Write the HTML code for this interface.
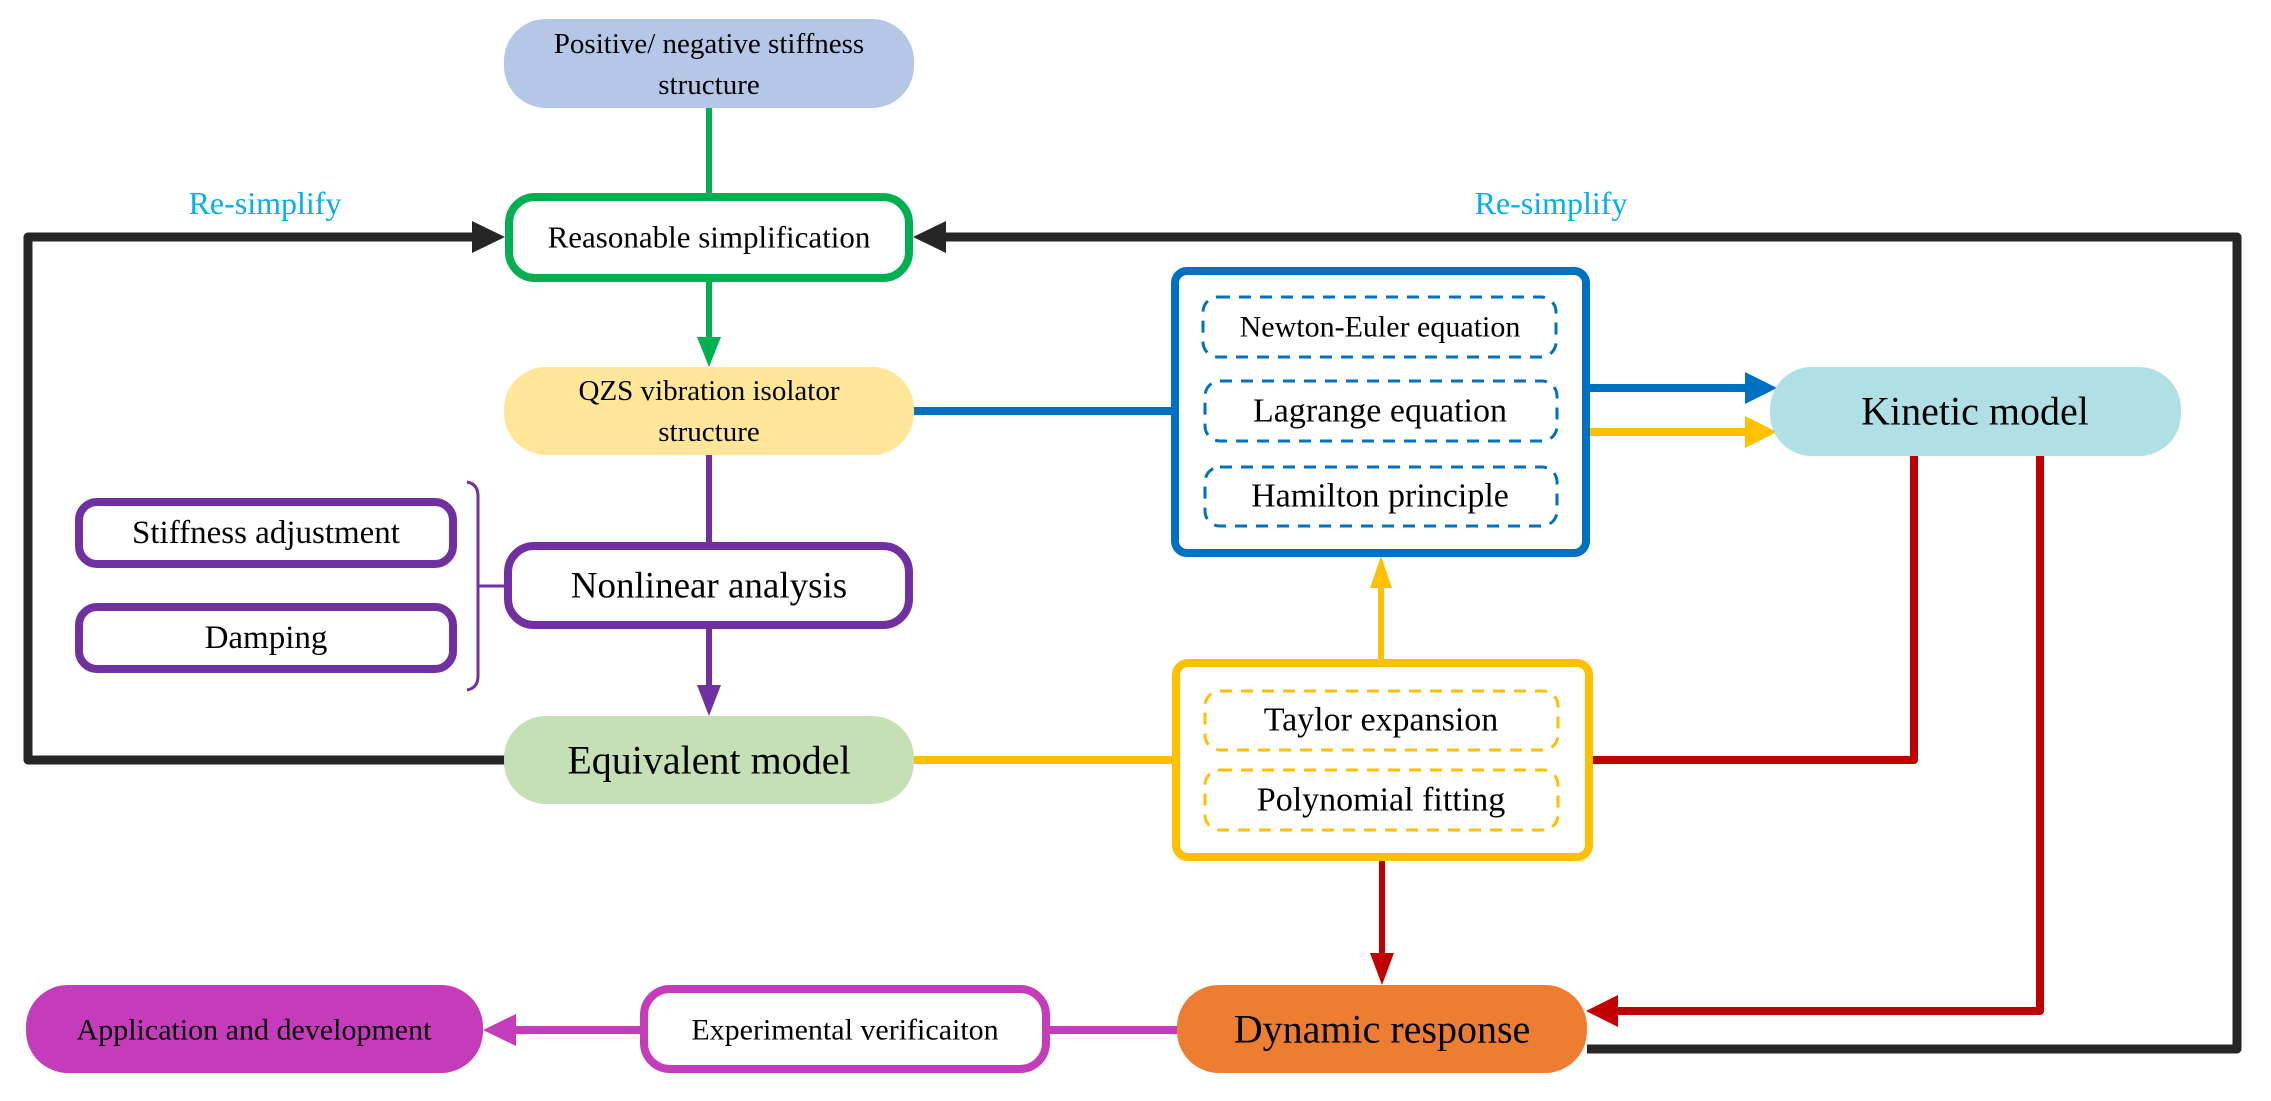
<!DOCTYPE html>
<html><head><meta charset="utf-8"><style>
html,body{margin:0;padding:0;background:#fff;}
svg{display:block;}
svg text{font-family:'Liberation Serif','Times New Roman','DejaVu Serif',serif;fill:#000;text-anchor:middle;dominant-baseline:central;}
</style></head><body>
<svg width="2271" height="1101" viewBox="0 0 2271 1101" xmlns="http://www.w3.org/2000/svg" font-family="Liberation Serif, Times New Roman, DejaVu Serif, serif">
<rect width="2271" height="1101" fill="#fff"/>

<polyline points="505,760 28,760 28,237 475,237" fill="none" stroke="#262626" stroke-width="9" stroke-linejoin="round"/>
<polygon points="505,237 472,221 472,253" fill="#262626"/>
<polyline points="1587,1049 2237,1049 2237,237 943,237" fill="none" stroke="#262626" stroke-width="9" stroke-linejoin="round"/>
<polygon points="913,237 946,221 946,253" fill="#262626"/>

<line x1="709" y1="108" x2="709" y2="193" stroke="#00b050" stroke-width="6"/>
<line x1="709" y1="282" x2="709" y2="340" stroke="#00b050" stroke-width="6"/>
<polygon points="697,337 721,337 709,367" fill="#00b050"/>

<line x1="913" y1="411" x2="1172" y2="411" stroke="#0070c0" stroke-width="8"/>

<line x1="709" y1="455" x2="709" y2="542" stroke="#7030a0" stroke-width="6"/>
<line x1="709" y1="629" x2="709" y2="688" stroke="#7030a0" stroke-width="6"/>
<polygon points="697,685 721,685 709,716" fill="#7030a0"/>
<path d="M467,482 Q478,484 478,496 L478,676 Q478,688 467,690" fill="none" stroke="#7030a0" stroke-width="3"/>
<line x1="478" y1="586" x2="505" y2="586" stroke="#7030a0" stroke-width="3"/>

<line x1="913" y1="760" x2="1172" y2="760" stroke="#ffc000" stroke-width="8"/>
<line x1="1381" y1="659" x2="1381" y2="585" stroke="#ffc000" stroke-width="6"/>
<polygon points="1370,588 1392,588 1381,556" fill="#ffc000"/>
<line x1="1590" y1="432" x2="1748" y2="432" stroke="#ffc000" stroke-width="8"/>
<polygon points="1777,432 1745,416 1745,448" fill="#ffc000"/>
<line x1="1590" y1="388" x2="1748" y2="388" stroke="#0070c0" stroke-width="8"/>
<polygon points="1777,388 1745,372 1745,404" fill="#0070c0"/>

<polyline points="1914,456 1914,760 1592,760" fill="none" stroke="#c00000" stroke-width="8" stroke-linejoin="round"/>
<polyline points="2040,456 2040,1011 1614,1011" fill="none" stroke="#c00000" stroke-width="8" stroke-linejoin="round"/>
<polygon points="1586,1011 1618,995 1618,1027" fill="#c00000"/>
<line x1="1382" y1="861" x2="1382" y2="955" stroke="#c00000" stroke-width="6"/>
<polygon points="1370,953 1394,953 1382,985" fill="#c00000"/>

<line x1="1178" y1="1030" x2="1050" y2="1030" stroke="#c43cb9" stroke-width="8"/>
<line x1="640" y1="1030" x2="512" y2="1030" stroke="#c43cb9" stroke-width="8"/>
<polygon points="483,1030 516,1014 516,1046" fill="#c43cb9"/>

<rect x="504" y="19" width="410" height="89" rx="42" fill="#b4c7e7"/>
<text x="709" y="44" font-size="29">Positive/ negative stiffness</text>
<text x="709" y="85" font-size="29">structure</text>

<rect x="509" y="197" width="400" height="81" rx="26" fill="#fff" stroke="#00b050" stroke-width="8"/>
<text x="709" y="237" font-size="31">Reasonable simplification</text>

<rect x="504" y="367" width="410" height="88" rx="42" fill="#ffe699"/>
<text x="709" y="391" font-size="29">QZS vibration isolator</text>
<text x="709" y="432" font-size="29">structure</text>

<rect x="79" y="502" width="374" height="62" rx="18" fill="#fff" stroke="#7030a0" stroke-width="8"/>
<text x="266" y="533" font-size="33">Stiffness adjustment</text>
<rect x="79" y="607" width="374" height="62" rx="18" fill="#fff" stroke="#7030a0" stroke-width="8"/>
<text x="266" y="638" font-size="33">Damping</text>

<rect x="508" y="546" width="401" height="79" rx="26" fill="#fff" stroke="#7030a0" stroke-width="8"/>
<text x="709" y="586" font-size="37">Nonlinear analysis</text>

<rect x="504" y="716" width="410" height="88" rx="42" fill="#c5e0b4"/>
<text x="709" y="760" font-size="40">Equivalent model</text>

<rect x="1175" y="271" width="411" height="282" rx="12" fill="#fff" stroke="#0070c0" stroke-width="8"/>
<rect x="1203" y="297" width="353" height="60" rx="15" fill="none" stroke="#0070c0" stroke-width="3" stroke-dasharray="12,9"/>
<text x="1380" y="327" font-size="30">Newton-Euler equation</text>
<rect x="1205" y="381" width="352" height="60" rx="15" fill="none" stroke="#0070c0" stroke-width="3" stroke-dasharray="12,9"/>
<text x="1380" y="411" font-size="34">Lagrange equation</text>
<rect x="1205" y="467" width="352" height="59" rx="15" fill="none" stroke="#0070c0" stroke-width="3" stroke-dasharray="12,9"/>
<text x="1380" y="496" font-size="34">Hamilton principle</text>

<rect x="1176" y="663" width="413" height="194" rx="12" fill="#fff" stroke="#ffc000" stroke-width="8"/>
<rect x="1205" y="691" width="353" height="59" rx="15" fill="none" stroke="#ffc000" stroke-width="3" stroke-dasharray="12,9"/>
<text x="1381" y="720" font-size="34">Taylor expansion</text>
<rect x="1205" y="770" width="353" height="60" rx="15" fill="none" stroke="#ffc000" stroke-width="3" stroke-dasharray="12,9"/>
<text x="1381" y="800" font-size="34">Polynomial fitting</text>

<rect x="1770" y="367" width="411" height="89" rx="42" fill="#b0dfe6"/>
<text x="1975" y="411" font-size="40">Kinetic model</text>

<rect x="1177" y="985" width="410" height="88" rx="42" fill="#ed7d31"/>
<text x="1382" y="1029" font-size="40">Dynamic response</text>

<rect x="644" y="989" width="402" height="80" rx="26" fill="#fff" stroke="#c43cb9" stroke-width="8"/>
<text x="845" y="1030" font-size="30">Experimental verificaiton</text>

<rect x="26" y="985" width="457" height="88" rx="42" fill="#c43cb9"/>
<text x="254" y="1030" font-size="30">Application and development</text>

<text x="265" y="203" font-size="32" style="fill:#00b0f0">Re-simplify</text>
<text x="1551" y="203" font-size="32" style="fill:#00b0f0">Re-simplify</text>
</svg>
</body></html>
